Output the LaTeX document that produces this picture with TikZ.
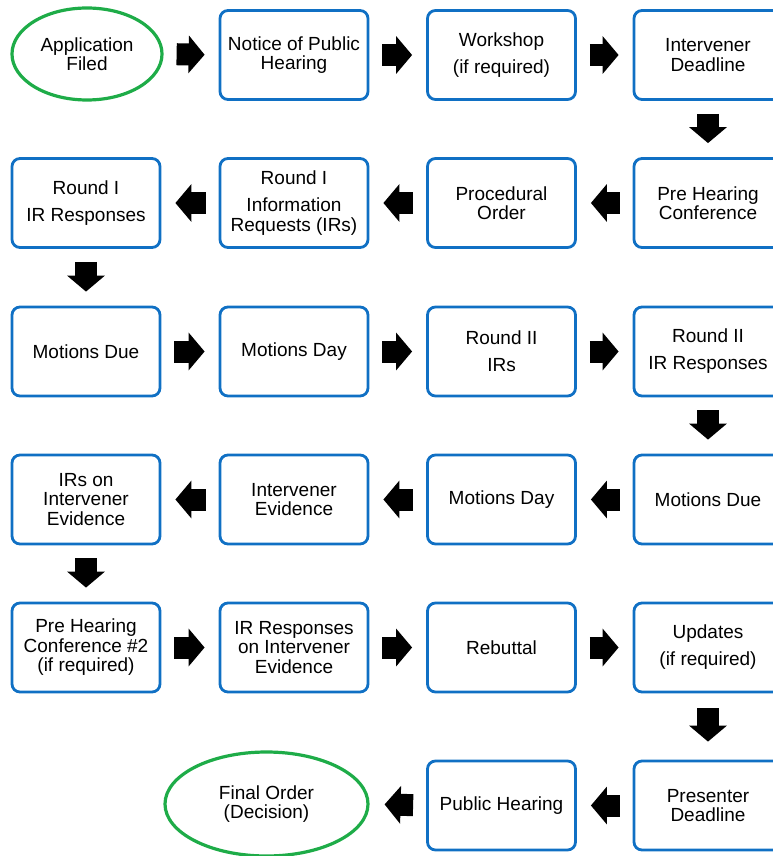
\documentclass[tikz,border=0pt]{standalone}
\usepackage{fontspec}
\setmainfont{Liberation Sans}
\usetikzlibrary{shapes.geometric,arrows.meta}
\definecolor{boxblue}{RGB}{16,112,196}
\definecolor{ovalgreen}{RGB}{30,172,72}
\tikzset{
  box/.style={draw=boxblue, line width=2.8pt, rounded corners=8pt,
    minimum width=148pt, minimum height=89pt, align=center, inner sep=2pt,
    font=\fontsize{19}{19.5}\selectfont, text=black},
  oval/.style={ellipse, draw=ovalgreen, line width=3.2pt, align=center,
    inner sep=0pt, font=\fontsize{19}{19.5}\selectfont, text=black},
  blk/.style={line width=22pt, -{Triangle[length=16pt,width=37pt]},
    shorten <=13pt, shorten >=14pt}
}
\begin{document}
\begin{tikzpicture}[x=1pt,y=-1pt]
\useasboundingbox (0,0) rectangle (772,856);
% row 1
\node[oval, minimum width=150pt, minimum height=92pt] (a1) at (87,54) {Application\\Filed};
\node[box] (a2) at (294,55) {Notice of Public\\Hearing};
\node[box] (a3) at (501.5,55) {Workshop\\[7.5pt](if required)};
\node[box] (a4) at (708,55) {Intervener\\Deadline};
% row 2
\node[box] (b4) at (708,203) {Pre Hearing\\Conference};
\node[box] (b3) at (501.5,203) {Procedural\\Order};
\node[box] (b2) at (294,203) {Round I\\[7.5pt]Information\\Requests (IRs)};
\node[box] (b1) at (86,203) {Round I\\[7.5pt]IR Responses};
% row 3
\node[box] (c1) at (86,351.5) {Motions Due};
\node[box] (c2) at (294,351.5) {Motions Day};
\node[box] (c3) at (501.5,351.5) {Round II\\[7.5pt]IRs};
\node[box] (c4) at (708,351.5) {Round II\\[7.5pt]IR Responses};
% row 4
\node[box] (d4) at (708,499.5) {Motions Due};
\node[box] (d3) at (501.5,499.5) {Motions Day};
\node[box] (d2) at (294,499.5) {Intervener\\Evidence};
\node[box] (d1) at (86,499.5) {IRs on\\Intervener\\Evidence};
% row 5
\node[box] (e1) at (86,647.5) {Pre Hearing\\Conference \#2\\(if required)};
\node[box] (e2) at (294,647.5) {IR Responses\\on Intervener\\Evidence};
\node[box] (e3) at (501.5,647.5) {Rebuttal};
\node[box] (e4) at (708,647.5) {Updates\\[7.5pt](if required)};
% row 6
\node[box] (f4) at (708,805.5) {Presenter\\Deadline};
\node[box] (f3) at (501.5,805.5) {Public Hearing};
\node[oval, minimum width=203pt, minimum height=104pt] (f2) at (266.5,804) {Final Order\\(Decision)};
% arrows
\draw[blk] (a1.east) -- (a2.west);
\draw[blk] (a2) -- (a3);
\draw[blk] (a3) -- (a4);
\draw[blk] (a4) -- (b4);
\draw[blk] (b4) -- (b3);
\draw[blk] (b3) -- (b2);
\draw[blk] (b2) -- (b1);
\draw[blk] (b1) -- (c1);
\draw[blk] (c1) -- (c2);
\draw[blk] (c2) -- (c3);
\draw[blk] (c3) -- (c4);
\draw[blk] (c4) -- (d4);
\draw[blk] (d4) -- (d3);
\draw[blk] (d3) -- (d2);
\draw[blk] (d2) -- (d1);
\draw[blk] (d1) -- (e1);
\draw[blk] (e1) -- (e2);
\draw[blk] (e2) -- (e3);
\draw[blk] (e3) -- (e4);
\draw[blk, shorten <=15pt, shorten >=18pt] (e4) -- (f4);
\draw[blk] (f4) -- (f3);
\draw[blk, shorten >=15pt] (f3.west) -- (f2.east);
\end{tikzpicture}
\end{document}
